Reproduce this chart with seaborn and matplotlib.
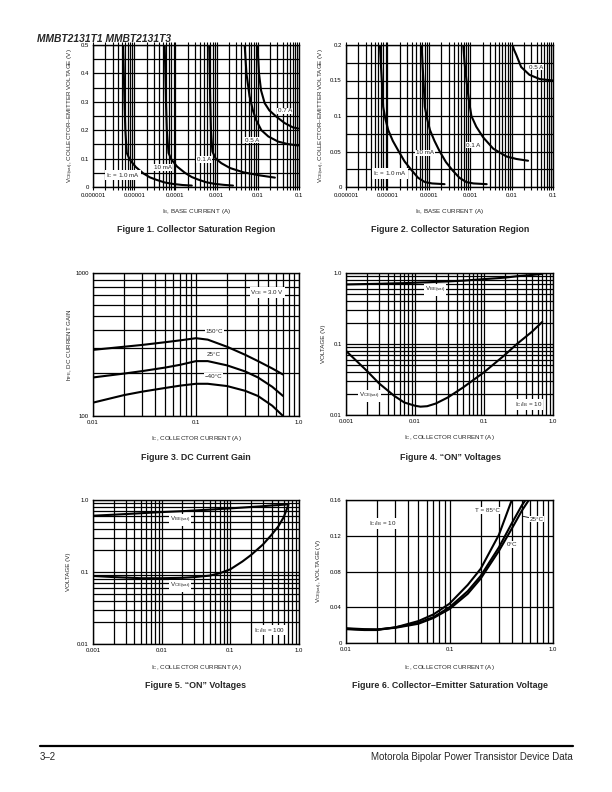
import numpy as np
import pandas as pd
import matplotlib
matplotlib.use("Agg")
import matplotlib.pyplot as plt
import matplotlib.ticker as mt
import seaborn as sns

# ---------------- data ----------------
# Figure 1: Collector saturation region, VCE(sat) vs IB
f1_ib_1ma = [5.4e-6, 5.6e-6, 5.8e-6, 6.1e-6, 6.6e-6, 7.9e-6, 1.1e-5, 1.66e-5, 2.4e-5, 3.5e-5, 5.5e-5, 8.9e-5, 1.5e-4, 2.5e-4]
f1_v_1ma = [0.5, 0.4, 0.3, 0.2, 0.12, 0.095, 0.07, 0.048, 0.034, 0.025, 0.016, 0.0106, 0.007, 0.005]
f1_ib_10ma = [5.5e-5, 5.7e-5, 5.9e-5, 6.2e-5, 6.8e-5, 8.0e-5, 1.1e-4, 1.7e-4, 2.5e-4, 3.6e-4, 5.5e-4, 9.0e-4, 1.5e-3, 2.5e-3]
f1_v_10ma = [0.5, 0.4, 0.3, 0.2, 0.12, 0.097, 0.072, 0.05, 0.035, 0.026, 0.017, 0.011, 0.0075, 0.005]
f1_ib_100ma = [6.6e-4, 6.8e-4, 7.0e-4, 7.3e-4, 7.9e-4, 9.5e-4, 1.3e-3, 2.1e-3, 4.4e-3, 1.1e-2, 2.6e-2]
f1_v_100ma = [0.5, 0.4, 0.3, 0.2, 0.125, 0.1, 0.084, 0.067, 0.052, 0.041, 0.033]
f1_ib_500ma = [4.8e-3, 5.3e-3, 6.3e-3, 7.6e-3, 9.1e-3, 1.22e-2, 1.8e-2, 3.1e-2, 5.4e-2, 9.5e-2]
f1_v_500ma = [0.5, 0.4, 0.32, 0.27, 0.236, 0.2, 0.178, 0.16, 0.151, 0.146]
f1_ib_700ma = [9.8e-3, 1.07e-2, 1.2e-2, 1.47e-2, 1.9e-2, 2.8e-2, 4.5e-2, 7.1e-2, 9.5e-2]
f1_v_700ma = [0.5, 0.4, 0.34, 0.295, 0.27, 0.248, 0.225, 0.21, 0.206]
f1_xticks = [1e-6, 1e-5, 1e-4, 1e-3, 1e-2, 1e-1]
f1_xlabels = ["0.000001", "0.00001", "0.0001", "0.001", "0.01", "0.1"]
f1_yticks = [0, 0.1, 0.2, 0.3, 0.4, 0.5]
f1_ylabels = ["0", "0.1", "0.2", "0.3", "0.4", "0.5"]

# Figure 2: Collector saturation region (zoomed)
f2_ib_1ma = [6.6e-6, 7.0e-6, 7.5e-6, 7.9e-6, 9.0e-6, 1.05e-5, 1.35e-5, 1.8e-5, 2.6e-5, 3.8e-5, 5.5e-5, 8.0e-5, 1.2e-4, 2.4e-4]
f2_v_1ma = [0.2, 0.17, 0.14, 0.113, 0.095, 0.08, 0.065, 0.052, 0.036, 0.024, 0.013, 0.007, 0.005, 0.004]
f2_ib_10ma = [6.7e-5, 7.1e-5, 7.6e-5, 8.0e-5, 9.2e-5, 1.07e-4, 1.37e-4, 1.8e-4, 2.6e-4, 3.8e-4, 5.5e-4, 8.0e-4, 1.2e-3, 2.5e-3]
f2_v_10ma = [0.2, 0.17, 0.14, 0.113, 0.095, 0.08, 0.065, 0.051, 0.035, 0.023, 0.013, 0.007, 0.005, 0.004]
f2_ib_100ma = [6.8e-4, 7.3e-4, 8.1e-4, 9.3e-4, 1.07e-3, 1.4e-3, 2.05e-3, 3.6e-3, 7.5e-3, 1.3e-2, 2.5e-2]
f2_v_100ma = [0.2, 0.175, 0.151, 0.122, 0.1, 0.085, 0.07, 0.054, 0.043, 0.0395, 0.037]
f2_ib_500ma = [1.05e-2, 1.15e-2, 1.3e-2, 1.7e-2, 2.7e-2, 4.8e-2, 1.0e-1]
f2_v_500ma = [0.2, 0.193, 0.186, 0.169, 0.158, 0.152, 0.15]
f2_yticks = [0, 0.05, 0.1, 0.15, 0.2]
f2_ylabels = ["0", "0.05", "0.1", "0.15", "0.2"]

# Figure 3: DC current gain
f3_ic = [0.01, 0.02, 0.03, 0.05, 0.07, 0.1, 0.13, 0.2, 0.3, 0.4, 0.55, 0.7]
f3_h_150 = [290, 305, 314, 328, 338, 350, 342, 305, 268, 242, 215, 195]
f3_h_25 = [186, 198, 206, 218, 228, 242, 242, 226, 205, 186, 160, 138]
f3_h_m40 = [124, 140, 148, 157, 163, 168, 168, 162, 150, 138, 118, 100]

# Figure 4: "ON" voltages, IC/IB = 10
f4_ic = [0.001, 0.002, 0.003, 0.005, 0.007, 0.01, 0.012, 0.015, 0.02, 0.03, 0.05, 0.1, 0.2, 0.3, 0.5, 0.7]
f4_vce = [0.08, 0.042, 0.028, 0.0186, 0.015, 0.0135, 0.0131, 0.0133, 0.0145, 0.0177, 0.0245, 0.040, 0.07, 0.10, 0.15, 0.205]
f4_vbe = [0.69, 0.70, 0.705, 0.715, 0.72, 0.73, 0.735, 0.74, 0.75, 0.76, 0.78, 0.82, 0.86, 0.9, 0.94, 0.97]

# Figure 5: "ON" voltages, IC/IB = 100
f5_ic = [0.001, 0.002, 0.005, 0.01, 0.02, 0.03, 0.05, 0.07, 0.1, 0.15, 0.2, 0.3, 0.4, 0.5, 0.6, 0.7]
f5_vbe = [0.605, 0.625, 0.655, 0.68, 0.70, 0.715, 0.735, 0.75, 0.765, 0.785, 0.80, 0.82, 0.84, 0.85, 0.86, 0.87]
f5_vce = [0.088, 0.085, 0.082, 0.082, 0.083, 0.085, 0.089, 0.096, 0.109, 0.14, 0.172, 0.242, 0.33, 0.43, 0.58, 0.85]

# Figure 6: Collector-emitter saturation voltage vs temperature
f6_ic_85 = [0.01, 0.015, 0.02, 0.03, 0.05, 0.07, 0.1, 0.15, 0.2, 0.3, 0.4]
f6_v_85 = [0.0155, 0.0145, 0.0145, 0.0175, 0.0245, 0.032, 0.044, 0.065, 0.083, 0.121, 0.16]
f6_ic_25 = [0.01, 0.015, 0.02, 0.03, 0.05, 0.07, 0.1, 0.15, 0.2, 0.3, 0.4, 0.5, 0.55]
f6_v_25 = [0.016, 0.015, 0.015, 0.0175, 0.0225, 0.029, 0.040, 0.058, 0.075, 0.107, 0.134, 0.154, 0.161]
f6_ic_0 = [0.01, 0.015, 0.02, 0.03, 0.05, 0.07, 0.1, 0.15, 0.2, 0.3, 0.4, 0.5, 0.6]
f6_v_0 = [0.0165, 0.0155, 0.0152, 0.017, 0.0215, 0.028, 0.038, 0.055, 0.072, 0.103, 0.128, 0.148, 0.162]
f6_yticks = [0, 0.04, 0.08, 0.12, 0.16]
f6_ylabels = ["0", "0.04", "0.08", "0.12", "0.16"]

# ---------------- style ----------------
sns.set_theme(style="white")
plt.rcParams["font.family"] = ["Liberation Sans", "DejaVu Sans"]
plt.rcParams["mathtext.fontset"] = "custom"
plt.rcParams["mathtext.rm"] = "Liberation Sans"
plt.rcParams["mathtext.default"] = "regular"

W, H = 612, 792
fig = plt.figure(figsize=(W / 100, H / 100), dpi=100)
fig.patch.set_facecolor("white")

GRID_LW = 0.9
CURVE_LW = 1.5
TICK_FS = 4.3
LABEL_FS = 4.5
NOTE_FS = 4.5
CAP_FS = 6.4
BOX = dict(facecolor="white", edgecolor="none", pad=0.6)


def make_axes(l, t, r, b):
    return fig.add_axes([l / W, 1 - b / H, (r - l) / W, (b - t) / H])


def style_axes(ax, ext_ticks=False):
    ax.set_facecolor("white")
    for s in ax.spines.values():
        s.set_color("black")
        s.set_linewidth(1.0)
    ax.grid(True, which="both", color="black", linewidth=GRID_LW)
    ax.tick_params(axis="both", which="both", labelsize=TICK_FS, length=0, pad=3,
                   colors="black")
    if ext_ticks:
        ax.tick_params(axis="x", which="both", top=True, bottom=True,
                       direction="out", length=2.5, width=0.8, pad=2)


def log_x(ax, ticks, labels):
    ax.set_xscale("log")
    ax.set_xlim(ticks[0], ticks[-1])
    ax.set_xticks(ticks, labels=labels)
    ax.xaxis.set_minor_locator(mt.LogLocator(base=10, subs=np.arange(2, 10), numticks=30))
    ax.xaxis.set_minor_formatter(mt.NullFormatter())


def log_y(ax, ticks, labels):
    ax.set_yscale("log")
    ax.set_ylim(ticks[0], ticks[-1])
    ax.set_yticks(ticks, labels=labels)
    ax.yaxis.set_minor_locator(mt.LogLocator(base=10, subs=np.arange(2, 10), numticks=30))
    ax.yaxis.set_minor_formatter(mt.NullFormatter())


def curve(ax, x, y):
    df = pd.DataFrame({"x": x, "y": y})
    sns.lineplot(data=df, x="x", y="y", ax=ax, color="black", linewidth=CURVE_LW,
                 sort=False, estimator=None, legend=False)


def labels(ax, xl, yl, ylab_px, xlab_px, l, t, r, b):
    # ylab_px / xlab_px are the pixel centres of the axis labels
    ax.set_xlabel(xl, fontsize=LABEL_FS)
    ax.set_ylabel(yl, fontsize=LABEL_FS)
    ax.yaxis.label.set_va("center")
    ax.xaxis.label.set_va("center")
    ax.yaxis.set_label_coords((ylab_px - l) / (r - l), 0.5)
    ax.xaxis.set_label_coords(0.5, -(xlab_px - b) / (b - t))


def note(ax, x, y, s, ha="center"):
    ax.text(x, y, s, fontsize=NOTE_FS, ha=ha, va="center", bbox=BOX, zorder=5)


def caption(cx, cy, s):
    fig.text(cx / W, 1 - cy / H, s, fontsize=CAP_FS, fontweight="bold",
             ha="center", va="center")


# ---------------- Figure 1 ----------------
L1 = (93, 45, 299, 187)
ax1 = make_axes(*L1)
for xs, ys in [(f1_ib_1ma, f1_v_1ma), (f1_ib_10ma, f1_v_10ma), (f1_ib_100ma, f1_v_100ma),
               (f1_ib_500ma, f1_v_500ma), (f1_ib_700ma, f1_v_700ma)]:
    curve(ax1, xs, ys)
log_x(ax1, f1_xticks, f1_xlabels)
ax1.set_ylim(0, 0.5)
ax1.set_yticks(f1_yticks, labels=f1_ylabels)
ax1.yaxis.set_minor_locator(mt.MultipleLocator(0.05))
style_axes(ax1, ext_ticks=True)
labels(ax1, "I$_B$, BASE CURRENT (A)", "V$_{CE(sat)}$, COLLECTOR–EMITTER VOLTAGE (V)", 71, 211, *L1)
note(ax1, 5.35e-6, 0.042, "I$_C$ = 1.0 mA")
note(ax1, 4.9e-5, 0.068, "10 mA")
note(ax1, 4.9e-4, 0.0975, "0.1 A")
note(ax1, 7.4e-3, 0.165, "0.5 A")
note(ax1, 4.5e-2, 0.268, "0.7 A")
caption(196, 230, "Figure 1. Collector Saturation Region")

# ---------------- Figure 2 ----------------
L2 = (346, 45, 553, 187)
ax2 = make_axes(*L2)
for xs, ys in [(f2_ib_1ma, f2_v_1ma), (f2_ib_10ma, f2_v_10ma), (f2_ib_100ma, f2_v_100ma),
               (f2_ib_500ma, f2_v_500ma)]:
    curve(ax2, xs, ys)
log_x(ax2, f1_xticks, f1_xlabels)
ax2.set_ylim(0, 0.2)
ax2.set_yticks(f2_yticks, labels=f2_ylabels)
ax2.yaxis.set_minor_locator(mt.MultipleLocator(0.025))
style_axes(ax2, ext_ticks=True)
labels(ax2, "I$_B$, BASE CURRENT (A)", "V$_{CE(sat)}$, COLLECTOR–EMITTER VOLTAGE (V)", 322, 211, *L2)
note(ax2, 1.15e-5, 0.019, "I$_C$ = 1.0 mA")
note(ax2, 8.2e-5, 0.048, "10 mA")
note(ax2, 1.2e-3, 0.059, "0.1 A")
note(ax2, 4.0e-2, 0.169, "0.5 A")
caption(450, 230, "Figure 2. Collector Saturation Region")

# ---------------- Figure 3 ----------------
L3 = (93, 273, 299, 416)
ax3 = make_axes(*L3)
for ys in [f3_h_150, f3_h_25, f3_h_m40]:
    curve(ax3, f3_ic, ys)
log_x(ax3, [0.01, 0.1, 1.0], ["0.01", "0.1", "1.0"])
log_y(ax3, [100, 1000], ["100", "1000"])
style_axes(ax3)
labels(ax3, "I$_C$, COLLECTOR CURRENT (A)", "h$_{FE}$, DC CURRENT GAIN", 70, 438, *L3)
note(ax3, 0.494, 728, "V$_{CE}$ = 3.0 V")
note(ax3, 0.15, 392, "150°C")
note(ax3, 0.147, 269, "25°C")
note(ax3, 0.147, 190, "−40°C")
caption(196, 457, "Figure 3. DC Current Gain")

# ---------------- Figure 4 ----------------
L4 = (346, 273, 553, 415)
ax4 = make_axes(*L4)
curve(ax4, f4_ic, f4_vbe)
curve(ax4, f4_ic, f4_vce)
log_x(ax4, [0.001, 0.01, 0.1, 1.0], ["0.001", "0.01", "0.1", "1.0"])
log_y(ax4, [0.01, 0.1, 1.0], ["0.01", "0.1", "1.0"])
style_axes(ax4)
labels(ax4, "I$_C$, COLLECTOR CURRENT (A)", "VOLTAGE (V)", 324, 438, *L4)
note(ax4, 0.0194, 0.58, "V$_{BE(sat)}$")
note(ax4, 0.00219, 0.0186, "V$_{CE(sat)}$")
note(ax4, 0.444, 0.0141, "I$_C$/I$_B$ = 10")
caption(450, 457, "Figure 4. “ON” Voltages")

# ---------------- Figure 5 ----------------
L5 = (93, 500, 299, 644)
ax5 = make_axes(*L5)
curve(ax5, f5_ic, f5_vbe)
curve(ax5, f5_ic, f5_vce)
log_x(ax5, [0.001, 0.01, 0.1, 1.0], ["0.001", "0.01", "0.1", "1.0"])
log_y(ax5, [0.01, 0.1, 1.0], ["0.01", "0.1", "1.0"])
style_axes(ax5)
labels(ax5, "I$_C$, COLLECTOR CURRENT (A)", "VOLTAGE (V)", 69, 667, *L5)
note(ax5, 0.0186, 0.53, "V$_{BE(sat)}$")
note(ax5, 0.0186, 0.064, "V$_{CE(sat)}$")
note(ax5, 0.373, 0.0156, "I$_C$/I$_B$ = 100")
caption(196, 685, "Figure 5. “ON” Voltages")

# ---------------- Figure 6 ----------------
L6 = (346, 500, 553, 643)
ax6 = make_axes(*L6)
curve(ax6, f6_ic_85, f6_v_85)
curve(ax6, f6_ic_25, f6_v_25)
curve(ax6, f6_ic_0, f6_v_0)
log_x(ax6, [0.01, 0.1, 1.0], ["0.01", "0.1", "1.0"])
ax6.set_ylim(0, 0.16)
ax6.set_yticks(f6_yticks, labels=f6_ylabels)
style_axes(ax6)
labels(ax6, "I$_C$, COLLECTOR CURRENT (A)", "V$_{CE(sat)}$, VOLTAGE (V)", 320, 667, *L6)
note(ax6, 0.0225, 0.134, "I$_C$/I$_B$ = 10")
note(ax6, 0.232, 0.148, "T = 85°C")
note(ax6, 0.40, 0.11, "0°C")
ax6.annotate("25°C", xy=(0.513, 0.1417), xytext=(0.594, 0.1387), fontsize=NOTE_FS,
             ha="left", va="center", bbox=BOX, zorder=5,
             arrowprops=dict(arrowstyle="-", color="black", lw=0.6, shrinkA=0, shrinkB=0))
caption(450, 685, "Figure 6. Collector–Emitter Saturation Voltage")

# ---------------- header / footer ----------------
fig.text(37 / W, 1 - 39 / H, "MMBT2131T1 MMBT2131T3", fontsize=7.4, fontweight="heavy",
         style="italic", ha="left", va="center")
fig.add_artist(plt.Line2D([40 / W, 573 / W], [1 - 746 / H, 1 - 746 / H],
                          color="black", linewidth=1.6, transform=fig.transFigure))
fig.text(40 / W, 1 - 757 / H, "3–2", fontsize=7, ha="left", va="center")
fig.text(573 / W, 1 - 757 / H, "Motorola Bipolar Power Transistor Device Data",
         fontsize=7, ha="right", va="center")

fig.savefig("out.png", dpi=100, facecolor="white")
